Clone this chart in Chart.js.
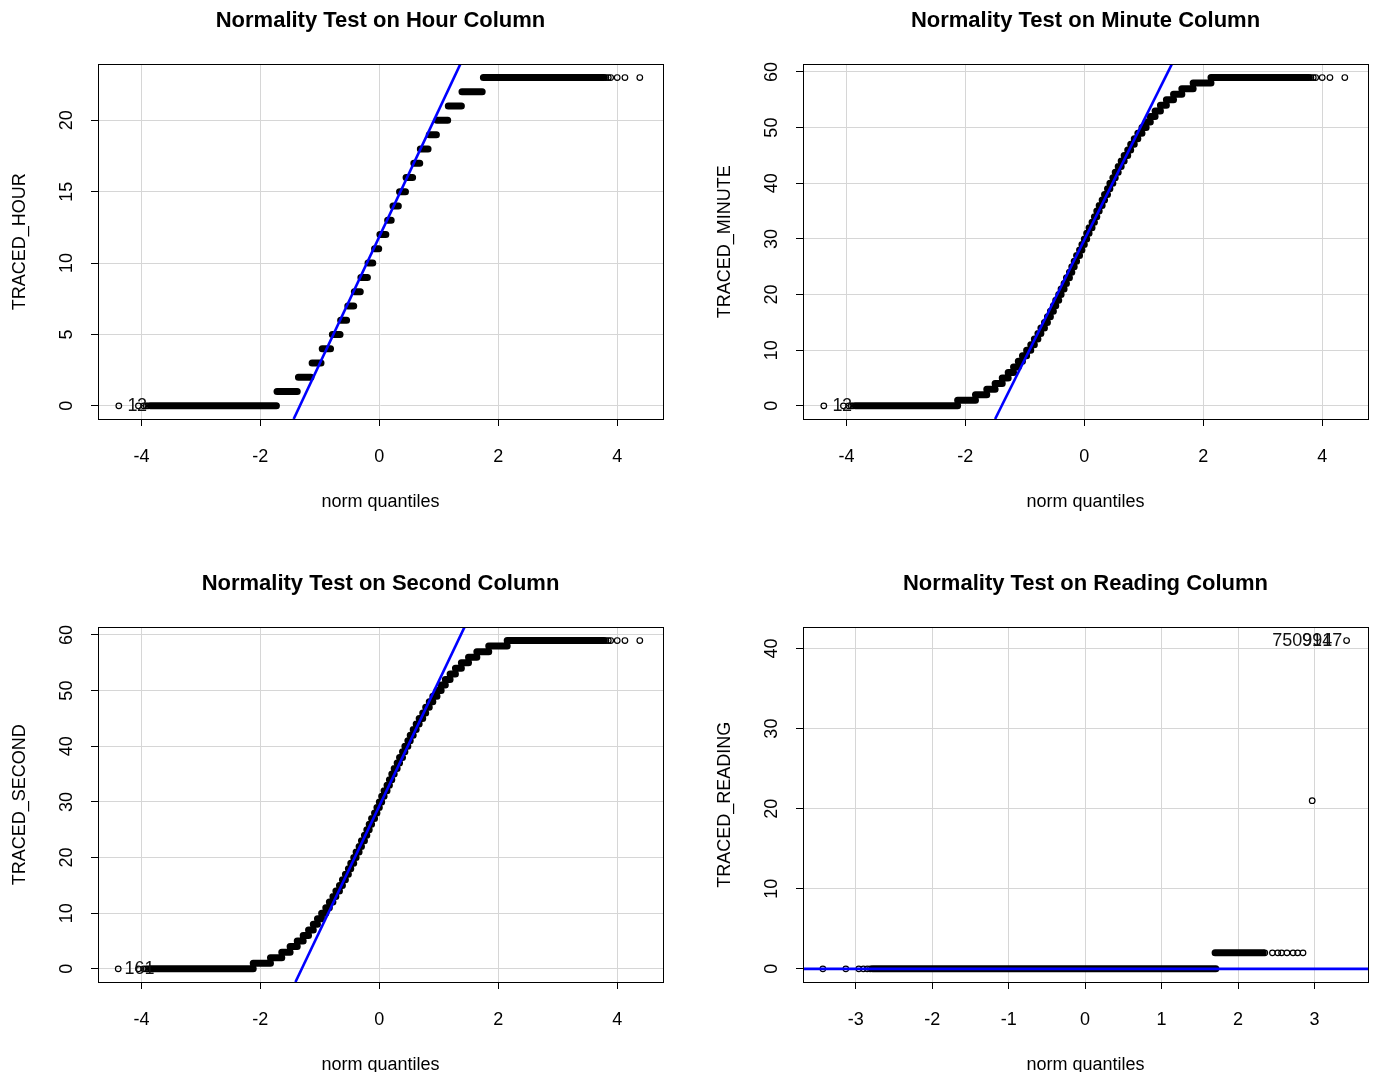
<!DOCTYPE html>
<html>
<head>
<meta charset="utf-8">
<script src="https://cdn.jsdelivr.net/npm/chart.js@4.4.1/dist/chart.umd.min.js"></script>
<style>
html, body { margin: 0; padding: 0; background: #fff; overflow: hidden; }
canvas { position: absolute; }
</style>
</head>
<body>
<canvas id="hourChart" width="670" height="536" style="left:0;top:0"></canvas>
<canvas id="minuteChart" width="670" height="536" style="left:705px;top:0"></canvas>
<canvas id="secondChart" width="670" height="536" style="left:0;top:563px"></canvas>
<canvas id="readingChart" width="670" height="536" style="left:705px;top:563px"></canvas>
<script>
// ---- Hour column: one run of points per hour value (norm quantile where run starts / ends)
var hourVals  = [0, 1, 2, 3, 4, 5, 6, 7, 8, 9, 10, 11, 12, 13, 14, 15, 16, 17, 18, 19, 20, 21, 22, 23];
var hourStart = [-3.85, -1.72, -1.36, -1.13, -0.96, -0.79, -0.65, -0.53, -0.42, -0.31, -0.19, -0.08, 0.01, 0.14, 0.23, 0.34, 0.45, 0.58, 0.69, 0.84, 0.97, 1.16, 1.39, 1.75];
var hourEnd   = [-1.73, -1.38, -1.15, -0.98, -0.82, -0.66, -0.55, -0.43, -0.32, -0.20, -0.11, -0.01, 0.11, 0.20, 0.32, 0.44, 0.56, 0.68, 0.82, 0.96, 1.15, 1.38, 1.73, 3.78];
var hourLoneX = [-4.38, -4.05, -3.96, -3.92, -3.89, 3.81, 3.85, 3.89, 4.00, 4.13, 4.38];
var hourLoneY = [0, 0, 0, 0, 0, 23, 23, 23, 23, 23, 23];
var hourLineX = [-1.44, 1.36];
var hourLineY = [-0.92, 23.92];
var hourIdText = ["1", "2"];
var hourIdX = [-4.15, -3.99];
var hourIdY = [0, 0];
var hourXTicks = [-4, -2, 0, 2, 4];
var hourYTicks = [0, 5, 10, 15, 20];

// ---- Minute column
var minuteVals = [0, 1, 2, 3, 4, 5, 6, 7, 8, 9, 10, 11, 12, 13, 14, 15, 16, 17, 18, 19, 20, 21, 22, 23, 24, 25, 26, 27, 28, 29,
  30, 31, 32, 33, 34, 35, 36, 37, 38, 39, 40, 41, 42, 43, 44, 45, 46, 47, 48, 49, 50, 51, 52, 53, 54, 55, 56, 57, 58, 59];
var minuteStart = [-3.85, -2.13, -1.83, -1.64, -1.50, -1.38, -1.28, -1.19, -1.11, -1.04, -0.97, -0.90, -0.84, -0.78, -0.73,
  -0.67, -0.62, -0.57, -0.52, -0.48, -0.43, -0.39, -0.34, -0.30, -0.25, -0.21, -0.17, -0.13, -0.08, -0.04,
  0.00, 0.04, 0.08, 0.13, 0.17, 0.21, 0.25, 0.30, 0.34, 0.39, 0.43, 0.48, 0.52, 0.57, 0.62,
  0.67, 0.73, 0.78, 0.84, 0.90, 0.97, 1.04, 1.11, 1.19, 1.28, 1.38, 1.50, 1.64, 1.83, 2.13];
var minuteEnd = [-2.13, -1.83, -1.64, -1.50, -1.38, -1.28, -1.19, -1.11, -1.04, -0.97, -0.90, -0.84, -0.78, -0.73, -0.67,
  -0.62, -0.57, -0.52, -0.48, -0.43, -0.39, -0.34, -0.30, -0.25, -0.21, -0.17, -0.13, -0.08, -0.04, 0.00,
  0.04, 0.08, 0.13, 0.17, 0.21, 0.25, 0.30, 0.34, 0.39, 0.43, 0.48, 0.52, 0.57, 0.62, 0.67,
  0.73, 0.78, 0.84, 0.90, 0.97, 1.04, 1.11, 1.19, 1.28, 1.38, 1.50, 1.64, 1.83, 2.13, 3.78];
var minuteLoneX = [-4.38, -4.05, -3.96, -3.92, -3.89, 3.81, 3.85, 3.89, 4.00, 4.13, 4.38];
var minuteLoneY = [0, 0, 0, 0, 0, 59, 59, 59, 59, 59, 59];
var minuteLineX = [-1.50, 1.47];
var minuteLineY = [-2.36, 61.36];
var minuteIdText = ["1", "2"];
var minuteIdX = [-4.15, -3.99];
var minuteIdY = [0, 0];

// ---- Second column
var secondVals = [0, 1, 2, 3, 4, 5, 6, 7, 8, 9, 10, 11, 12, 13, 14, 15, 16, 17, 18, 19, 20, 21, 22, 23, 24, 25, 26, 27, 28, 29,
  30, 31, 32, 33, 34, 35, 36, 37, 38, 39, 40, 41, 42, 43, 44, 45, 46, 47, 48, 49, 50, 51, 52, 53, 54, 55, 56, 57, 58, 59];
var secondStart = [-3.85, -2.12, -1.83, -1.64, -1.50, -1.38, -1.28, -1.19, -1.11, -1.04, -0.97, -0.90, -0.84, -0.78, -0.73,
  -0.67, -0.62, -0.57, -0.52, -0.48, -0.43, -0.39, -0.34, -0.30, -0.25, -0.21, -0.17, -0.13, -0.08, -0.04,
  0.00, 0.04, 0.08, 0.13, 0.17, 0.21, 0.25, 0.30, 0.34, 0.39, 0.43, 0.48, 0.52, 0.57, 0.62,
  0.67, 0.73, 0.78, 0.84, 0.90, 0.97, 1.04, 1.11, 1.19, 1.28, 1.38, 1.50, 1.64, 1.84, 2.15];
var secondEnd = [-2.12, -1.83, -1.64, -1.50, -1.38, -1.28, -1.19, -1.11, -1.04, -0.97, -0.90, -0.84, -0.78, -0.73, -0.67,
  -0.62, -0.57, -0.52, -0.48, -0.43, -0.39, -0.34, -0.30, -0.25, -0.21, -0.17, -0.13, -0.08, -0.04, 0.00,
  0.04, 0.08, 0.13, 0.17, 0.21, 0.25, 0.30, 0.34, 0.39, 0.43, 0.48, 0.52, 0.57, 0.62, 0.67,
  0.73, 0.78, 0.84, 0.90, 0.97, 1.04, 1.11, 1.19, 1.28, 1.38, 1.50, 1.64, 1.84, 2.15, 3.78];
var secondLoneX = [-4.39, -4.05, -3.96, -3.92, -3.89, 3.81, 3.85, 3.89, 4.00, 4.13, 4.38];
var secondLoneY = [0, 0, 0, 0, 0, 59, 59, 59, 59, 59, 59];
var secondLineX = [-1.41, 1.43];
var secondLineY = [-2.36, 61.36];
var secondIdText = ["1", "61"];
var secondIdX = [-4.20, -3.95];
var secondIdY = [0, 0];
var sixtyYTicks = [0, 10, 20, 30, 40, 50, 60];

// ---- Reading column
var readingVals  = [0, 2];
var readingStart = [-2.78, 1.70];
var readingEnd   = [1.71, 2.33];
var readingLoneX = [-3.43, -3.13, -2.96, -2.90, -2.85, -2.81, 2.35, 2.45, 2.52, 2.57, 2.64, 2.72, 2.78, 2.85, 2.97, 3.42];
var readingLoneY = [0, 0, 0, 0, 0, 0, 2, 2, 2, 2, 2, 2, 2, 2, 21, 41];
var readingLineX = [-3.69, 3.70];
var readingLineY = [0, 0];
var readingIdText = ["750991", "9147"];
var readingIdX = [2.84, 3.10];
var readingIdY = [41, 41];
var readingXTicks = [-3, -2, -1, 0, 1, 2, 3];
var readingYTicks = [0, 10, 20, 30, 40];

Chart.defaults.font.family = '"Liberation Sans", Arial, sans-serif';
Chart.defaults.font.size = 18;
Chart.defaults.color = '#000';
Chart.defaults.animation = false;

function stepData(vals, starts, ends) {
  var d = [];
  for (var i = 0; i < vals.length; i++) {
    d.push({x: starts[i], y: vals[i]});
    d.push({x: ends[i], y: vals[i]});
    d.push({x: ends[i], y: null});
  }
  return d;
}

function pairData(xs, ys) {
  return xs.map(function (x, i) { return {x: x, y: ys[i]}; });
}

function qqChart(id, title, yTitle, xRange, yRange, xTicks, yTicks, steps, lone, fit, ids) {
  var frame = {
    id: 'frame',
    afterDatasetsDraw: function (chart) {
      var a = chart.chartArea, ctx = chart.ctx;
      var sx = chart.scales.x, sy = chart.scales.y;
      ctx.save();
      ctx.strokeStyle = '#000';
      ctx.lineWidth = 1;
      ctx.strokeRect(Math.round(a.left) + 0.5, Math.round(a.top) + 0.5,
        Math.round(a.right - a.left), Math.round(a.bottom - a.top));
      ctx.font = '18px "Liberation Sans", Arial, sans-serif';
      ctx.fillStyle = '#111';
      ctx.textAlign = 'center';
      ctx.textBaseline = 'middle';
      for (var i = 0; i < ids.text.length; i++) {
        ctx.fillText(ids.text[i], sx.getPixelForValue(ids.x[i]), sy.getPixelForValue(ids.y[i]));
      }
      ctx.restore();
    }
  };

  return new Chart(document.getElementById(id), {
    type: 'scatter',
    data: {
      datasets: [
        {
          data: pairData(fit[0], fit[1]),
          showLine: true,
          borderColor: '#0000ff',
          borderWidth: 2.6,
          pointRadius: 0,
          clip: 0
        },
        {
          data: stepData(steps[0], steps[1], steps[2]),
          showLine: true,
          borderColor: '#000',
          borderWidth: 7,
          borderCapStyle: 'round',
          pointRadius: 0
        },
        {
          data: pairData(lone[0], lone[1]),
          pointStyle: 'circle',
          pointRadius: 2.8,
          pointBorderWidth: 1.2,
          pointBorderColor: '#000',
          pointBackgroundColor: 'rgba(0,0,0,0)'
        }
      ]
    },
    options: {
      responsive: false,
      layout: { padding: { left: 0, right: 7, top: 0, bottom: 0 } },
      plugins: {
        legend: { display: false },
        tooltip: { enabled: false },
        title: {
          display: true,
          text: title,
          fullSize: false,
          color: '#000',
          font: { size: 22, weight: 'bold' },
          padding: { top: 8, bottom: 30 }
        }
      },
      scales: {
        x: {
          type: 'linear',
          min: xRange[0],
          max: xRange[1],
          afterBuildTicks: function (s) { s.ticks = xTicks.map(function (v) { return {value: v}; }); },
          afterFit: function (s) { s.height = 117; },
          ticks: { autoSkip: false, maxRotation: 0, padding: 20, color: '#000' },
          grid: { color: '#d6d6d6', lineWidth: 1, tickColor: '#000', tickLength: 7 },
          border: { display: false },
          title: { display: true, text: 'norm quantiles', color: '#000', padding: { top: 0, bottom: 23 } }
        },
        y: {
          type: 'linear',
          min: yRange[0],
          max: yRange[1],
          afterBuildTicks: function (s) { s.ticks = yTicks.map(function (v) { return {value: v}; }); },
          afterFit: function (s) { s.width = 98; },
          ticks: { autoSkip: false, minRotation: 90, maxRotation: 90, crossAlign: 'center', padding: 14, color: '#000' },
          grid: { color: '#d6d6d6', lineWidth: 1, tickColor: '#000', tickLength: 7 },
          border: { display: false },
          title: { display: true, text: yTitle, color: '#000', padding: { top: 9, bottom: 0 } }
        }
      }
    },
    plugins: [frame]
  });
}

qqChart('hourChart', 'Normality Test on Hour Column', 'TRACED_HOUR',
  [-4.73, 4.77], [-0.92, 23.92], hourXTicks, hourYTicks,
  [hourVals, hourStart, hourEnd], [hourLoneX, hourLoneY], [hourLineX, hourLineY],
  {text: hourIdText, x: hourIdX, y: hourIdY});

qqChart('minuteChart', 'Normality Test on Minute Column', 'TRACED_MINUTE',
  [-4.73, 4.77], [-2.36, 61.36], hourXTicks, sixtyYTicks,
  [minuteVals, minuteStart, minuteEnd], [minuteLoneX, minuteLoneY], [minuteLineX, minuteLineY],
  {text: minuteIdText, x: minuteIdX, y: minuteIdY});

qqChart('secondChart', 'Normality Test on Second Column', 'TRACED_SECOND',
  [-4.73, 4.77], [-2.36, 61.36], hourXTicks, sixtyYTicks,
  [secondVals, secondStart, secondEnd], [secondLoneX, secondLoneY], [secondLineX, secondLineY],
  {text: secondIdText, x: secondIdX, y: secondIdY});

qqChart('readingChart', 'Normality Test on Reading Column', 'TRACED_READING',
  [-3.69, 3.70], [-1.64, 42.64], readingXTicks, readingYTicks,
  [readingVals, readingStart, readingEnd], [readingLoneX, readingLoneY], [readingLineX, readingLineY],
  {text: readingIdText, x: readingIdX, y: readingIdY});
</script>
</body>
</html>
